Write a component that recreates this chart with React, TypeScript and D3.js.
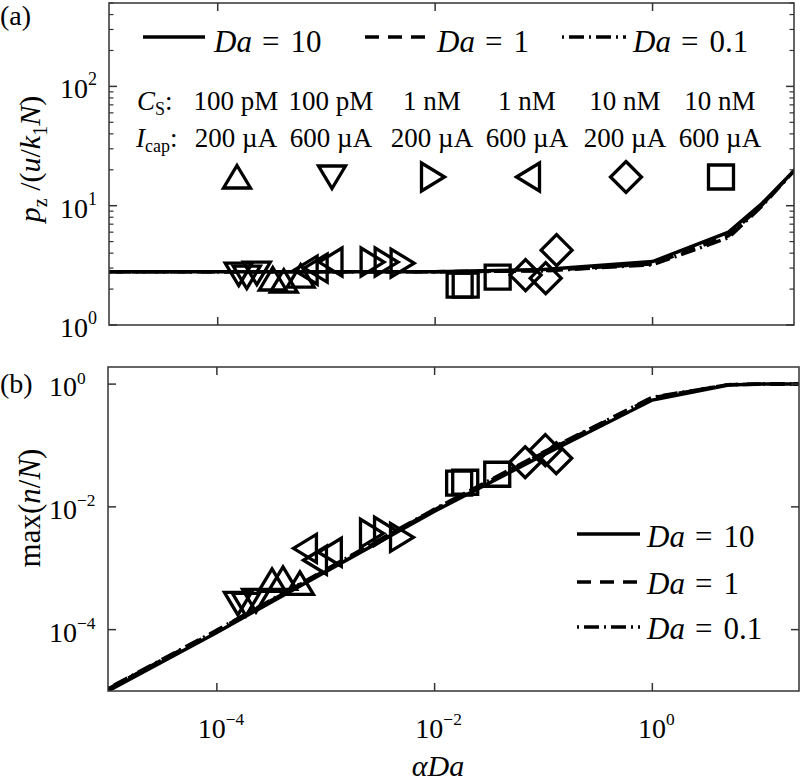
import React from "react";
import * as d3 from "d3";

// ---------- data ----------
const alphaDa = [1e-5, 1e-4, 1e-3, 1e-2, 0.1, 1, 5, 10, 22];
const pzDa10 = [2.8, 2.8, 2.8, 2.8, 2.92, 3.4, 6.0, 10.3, 21.5];
const pzDa1 = [2.8, 2.8, 2.8, 2.8, 2.86, 3.25, 5.6, 10.0, 21.5];
const pzDa01 = [2.8, 2.8, 2.8, 2.79, 2.84, 3.2, 5.4, 9.8, 21.5];
const nDa10 = [1e-5, 9e-5, 8.8e-4, 8.5e-3, 0.07, 0.55, 0.97, 1.0, 1.0];
const nDa1 = [1.08e-5, 9.6e-5, 9.3e-4, 9.0e-3, 0.076, 0.6, 0.98, 1.0, 1.0];
const nDa01 = [1.1e-5, 9.8e-5, 9.5e-4, 9.2e-3, 0.078, 0.61, 0.98, 1.0, 1.0];

const seriesLabels = ["10", "1", "0.1"];

const csLabels = ["100 pM", "100 pM", "1 nM", "1 nM", "10 nM", "10 nM"];
const icapLabels = ["200 µA", "600 µA", "200 µA", "600 µA", "200 µA", "600 µA"];
const markerKinds = ["up", "down", "right", "left", "diamond", "square"];

// marker data per group (alphaDa, pz/(u/k1N), max(n/N))
const upX = [3.21e-4, 4.05e-4, 5.79e-4];
const upPz = [2.43, 2.33, 2.57];
const upN = [6.35e-4, 6.84e-4, 5.67e-4];
const downX = [1.56e-4, 1.85e-4, 2.29e-4];
const downPz = [2.67, 2.52, 2.72];
const downN = [2.67e-4, 2.58e-4, 2.99e-4];
const rightX = [2.66e-3, 3.58e-3, 5.02e-3];
const rightPz = [3.37, 3.37, 3.3];
const rightN = [3.71e-3, 4.0e-3, 3.19e-3];
const leftX = [6.44e-4, 7.96e-4, 1.09e-3];
const leftPz = [2.88, 3.0, 3.37];
const leftN = [2.11e-3, 1.35e-3, 1.82e-3];
const diamondX = [0.0679, 0.104, 0.131];
const diamondPz = [2.62, 2.47, 4.24];
const diamondN = [0.0534, 0.0838, 0.062];
const squareX = [0.0168, 0.0191, 0.0376];
const squarePz = [2.16, 2.16, 2.52];
const squareN = [0.0243, 0.0252, 0.034];

const xTicks = [1e-4, 1e-2, 1];
const yTicksA = [1, 10, 100];
const yTicksB = [1e-4, 1e-2, 1];

// ---------- layout ----------
const FONT = "Liberation Serif, DejaVu Serif, Tinos, Times New Roman, Times, serif";
const A = { left: 109, right: 794, top: 3, bottom: 325 };
const B = { left: 108, right: 799, top: 367, bottom: 691 };
const colCenters = [236, 331, 432, 527, 625, 720];

const xA = d3.scaleLog().domain([1e-5, 20]).range([A.left, A.right]);
const yA = d3.scaleLog().domain([1, 500]).range([A.bottom, A.top]);
const xB = d3.scaleLog().domain([1e-5, 10 ** ((B.right - xA(1)) / (xA(1) - xA(0.1)))]).range([B.left, B.right]);
const yB = d3.scaleLog().domain([1e-5, 1.9]).range([B.bottom, B.top]);

const dashStyles = [undefined, "14 9", "2 5 15 5"];

function markerPath(kind: string): string {
  switch (kind) {
    case "up": return "M0,-11.5L13.5,11L-13.5,11Z";
    case "down": return "M0,11.5L13.5,-11L-13.5,-11Z";
    case "right": return "M11.5,0L-11.5,-14L-11.5,14Z";
    case "left": return "M-11.5,0L11.5,-14L11.5,14Z";
    case "diamond": return "M0,-15.5L15.5,0L0,15.5L-15.5,0Z";
    default: return "M-12.5,-12L12.5,-12L12.5,12L-12.5,12Z";
  }
}

const markerSets = [
  { kind: "up", x: upX, pz: upPz, n: upN },
  { kind: "down", x: downX, pz: downPz, n: downN },
  { kind: "right", x: rightX, pz: rightPz, n: rightN },
  { kind: "left", x: leftX, pz: leftPz, n: leftN },
  { kind: "diamond", x: diamondX, pz: diamondPz, n: diamondN },
  { kind: "square", x: squareX, pz: squarePz, n: squareN },
];

function Pow({ x, y, v, anchor, size }: { x: number; y: number; v: number; anchor: string; size: number }) {
  const e = Math.round(Math.log10(v));
  const s = e < 0 ? "\u2212" + Math.abs(e) : String(e);
  return (
    <text x={x} y={y} fontFamily={FONT} fontSize={size} textAnchor={anchor} fill="#000">
      10<tspan dy={-size * 0.45} fontSize={size * 0.62}>{s}</tspan>
    </text>
  );
}

function Frame({ box, x, y, yTicks, minor }: any) {
  const color = "#333";
  const els: any[] = [];
  els.push(<rect key="r" x={box.left} y={box.top} width={box.right - box.left} height={box.bottom - box.top} fill="none" stroke={color} strokeWidth={1.5} />);
  xTicks.forEach((t, i) => {
    const px = x(t);
    els.push(<line key={"xb" + i} x1={px} x2={px} y1={box.bottom} y2={box.bottom - 8} stroke={color} strokeWidth={1.5} />);
    els.push(<line key={"xt" + i} x1={px} x2={px} y1={box.top} y2={box.top + 8} stroke={color} strokeWidth={1.5} />);
  });
  yTicks.forEach((t: number, i: number) => {
    const py = y(t);
    els.push(<line key={"yl" + i} x1={box.left} x2={box.left + 8} y1={py} y2={py} stroke={color} strokeWidth={1.5} />);
    els.push(<line key={"yr" + i} x1={box.right} x2={box.right - 8} y1={py} y2={py} stroke={color} strokeWidth={1.5} />);
  });
  if (minor) {
    y.ticks().filter((t: number) => !yTicks.includes(t)).forEach((t: number, i: number) => {
      const py = y(t);
      els.push(<line key={"ml" + i} x1={box.left} x2={box.left + 4.5} y1={py} y2={py} stroke={color} strokeWidth={1.2} />);
      els.push(<line key={"mr" + i} x1={box.right} x2={box.right - 4.5} y1={py} y2={py} stroke={color} strokeWidth={1.2} />);
    });
  }
  return <g>{els}</g>;
}

function Curves({ x, y, series, clip }: any) {
  const line = d3.line<[number, number]>().x((d) => x(d[0])).y((d) => y(d[1]));
  return (
    <g clipPath={`url(#${clip})`}>
      {series.map((s: number[], i: number) => (
        <path key={i} d={line(alphaDa.map((a, j) => [a, s[j]]) as [number, number][]) || ""} fill="none" stroke="#000" strokeWidth={3.5} strokeDasharray={dashStyles[i]} />
      ))}
    </g>
  );
}

function Markers({ x, y, key2 }: any) {
  return (
    <g>
      {markerSets.map((m) =>
        m.x.map((xv, j) => (
          <path key={m.kind + j} d={markerPath(m.kind)} transform={`translate(${x(xv)},${y((m as any)[key2][j])})`} fill="none" stroke="#000" strokeWidth={3.3} strokeLinejoin="miter" />
        ))
      )}
    </g>
  );
}

function LegendEntry({ x1, x2, ly, tx, ty, i, size }: any) {
  return (
    <g>
      <line x1={x1} x2={x2} y1={ly} y2={ly} stroke="#000" strokeWidth={3.5} strokeDasharray={dashStyles[i]} />
      <text x={tx} y={ty} fontFamily={FONT} fontSize={size}>
        <tspan fontStyle="italic">Da</tspan>
        <tspan dx={10}>=</tspan>
        <tspan dx={11}>{seriesLabels[i]}</tspan>
      </text>
    </g>
  );
}

export default function App() {
  return (
    <svg width={800} height={782} style={{ position: "absolute", left: 0, top: 0, background: "#fff" }}>
      <defs>
        <clipPath id="clipA"><rect x={A.left} y={A.top} width={A.right - A.left} height={A.bottom - A.top} /></clipPath>
        <clipPath id="clipB"><rect x={B.left} y={B.top} width={B.right - B.left} height={B.bottom - B.top} /></clipPath>
      </defs>
      <rect x={0} y={0} width={800} height={782} fill="#fff" />

      {/* Panel (a) */}
      <Curves x={xA} y={yA} series={[pzDa10, pzDa1, pzDa01]} clip="clipA" />
      <Markers x={xA} y={yA} key2="pz" />
      <Frame box={A} x={xA} y={yA} yTicks={yTicksA} minor={true} />
      {yTicksA.map((t, i) => (
        <text key={"ya" + i} x={60} y={yA(t) + 12} fontFamily={FONT} fontSize={28}>
          10<tspan dy={-13} fontSize={18}>{Math.round(Math.log10(t))}</tspan>
        </text>
      ))}
      <text fontFamily={FONT} fontSize={30} textAnchor="middle" transform={`translate(40,${(A.top + A.bottom) / 2 - 5}) rotate(-90)`}>
        <tspan fontStyle="italic">p</tspan>
        <tspan fontSize={20} dy={7}>z</tspan>
        <tspan dy={-7}> /(</tspan>
        <tspan fontStyle="italic">u</tspan>/<tspan fontStyle="italic">k</tspan>
        <tspan fontSize={20} dy={7}>1</tspan>
        <tspan fontStyle="italic" dy={-7}>N</tspan>)
      </text>
      <text x={0} y={25} fontFamily={FONT} fontSize={28}>(a)</text>

      {/* top legend */}
      <LegendEntry x1={143} x2={205} ly={37} tx={214} ty={52} i={0} size={31} />
      <LegendEntry x1={365} x2={427} ly={37} tx={437} ty={52} i={1} size={31} />
      <LegendEntry x1={562} x2={626} ly={37} tx={633} ty={52} i={2} size={31} />

      {/* annotation rows */}
      <text x={137} y={110} fontFamily={FONT} fontSize={27}>
        <tspan fontStyle="italic">C</tspan>
        <tspan fontSize={18} dy={5}>S</tspan>
        <tspan dy={-5}>:</tspan>
      </text>
      <text x={136} y={147} fontFamily={FONT} fontSize={27}>
        <tspan fontStyle="italic">I</tspan>
        <tspan fontSize={18} dy={5}>cap</tspan>
        <tspan dy={-5}>:</tspan>
      </text>
      {colCenters.map((cx, i) => (
        <g key={"col" + i}>
          <text x={cx} y={110} fontFamily={FONT} fontSize={27} textAnchor="middle">{csLabels[i]}</text>
          <text x={cx} y={147} fontFamily={FONT} fontSize={27} textAnchor="middle">{icapLabels[i]}</text>
          <path d={markerPath(markerKinds[i])} transform={`translate(${cx + 1},177)`} fill="none" stroke="#000" strokeWidth={3.3} />
        </g>
      ))}

      {/* Panel (b) */}
      <Curves x={xB} y={yB} series={[nDa10, nDa1, nDa01]} clip="clipB" />
      <Markers x={xB} y={yB} key2="n" />
      <Frame box={B} x={xB} y={yB} yTicks={yTicksB} minor={false} />
      {yTicksB.map((t, i) => (
        <Pow key={"yb" + i} x={49} y={yB(t) + 12} v={t} anchor="start" size={28} />
      ))}
      {xTicks.map((t, i) => (
        <Pow key={"xb" + i} x={xB(t) + 4} y={738} v={t} anchor="middle" size={28} />
      ))}
      <text fontFamily={FONT} fontSize={31} textAnchor="middle" transform={`translate(40,508) rotate(-90)`}>
        max(<tspan fontStyle="italic">n</tspan>/<tspan fontStyle="italic">N</tspan>)
      </text>
      <text x={438} y={776} fontFamily={FONT} fontSize={30} textAnchor="middle" fontStyle="italic">αDa</text>
      <text x={0} y={393} fontFamily={FONT} fontSize={28}>(b)</text>

      {/* bottom legend */}
      <LegendEntry x1={577} x2={640} ly={534} tx={647} ty={547} i={0} size={31} />
      <LegendEntry x1={577} x2={640} ly={582} tx={647} ty={594} i={1} size={31} />
      <LegendEntry x1={577} x2={640} ly={627} tx={647} ty={639} i={2} size={31} />
    </svg>
  );
}
